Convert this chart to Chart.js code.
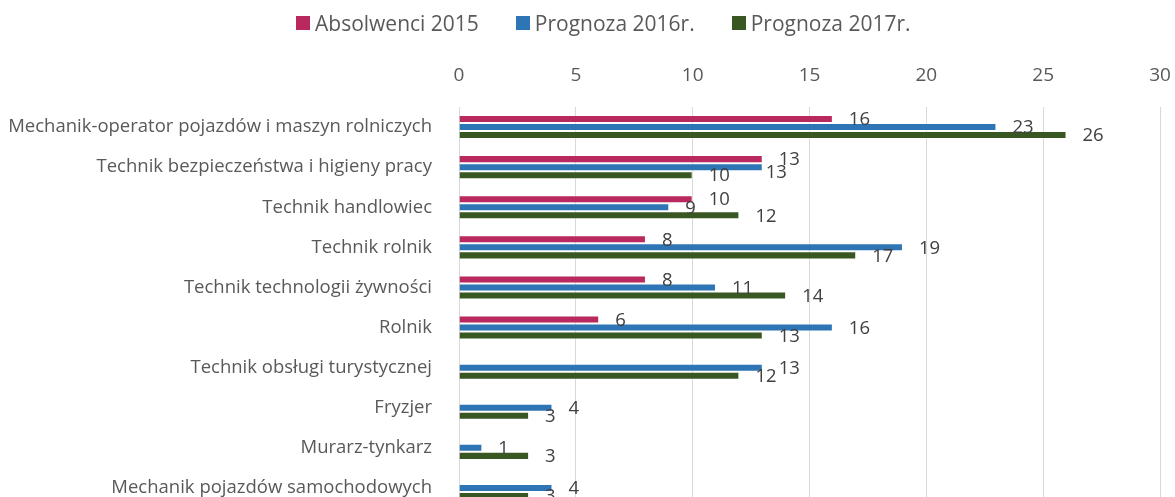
<!DOCTYPE html>
<html lang="pl">
<head>
<meta charset="utf-8">
<title>Absolwenci i prognoza</title>
<script src="https://cdn.jsdelivr.net/npm/chart.js@4.4.1/dist/chart.umd.min.js"></script>
<style>
  html, body { margin: 0; padding: 0; background: #fff; overflow: hidden; }
  #wrap { position: relative; width: 1175px; height: 510px; }
  #legend {
    position: absolute; top: 0; left: 296px; height: 46px;
    display: flex; align-items: center;
    font: 21px "Open Sans", sans-serif; color: #595959;
  }
  #legend .item { display: flex; align-items: center; margin-right: 37px; white-space: nowrap; }
  #legend .box { width: 14px; height: 14px; margin-right: 5px; }
</style>
</head>
<body>
<div id="wrap">
  <canvas id="chart"></canvas>
  <div id="legend"></div>
</div>
<script>
const categories = [
  "Mechanik-operator pojazdów i maszyn rolniczych",
  "Technik bezpieczeństwa i higieny pracy",
  "Technik handlowiec",
  "Technik rolnik",
  "Technik technologii żywności",
  "Rolnik",
  "Technik obsługi turystycznej",
  "Fryzjer",
  "Murarz-tynkarz",
  "Mechanik pojazdów samochodowych"
];
const seriesNames = ["Absolwenci 2015", "Prognoza 2016r.", "Prognoza 2017r."];
const absolwenci2015 = [16, 13, 10, 8, 8, 6, null, null, null, null];
const prognoza2016 = [23, 13, 9, 19, 11, 16, 13, 4, 1, 4];
const prognoza2017 = [26, 10, 12, 17, 14, 13, 12, 3, 3, 3];
const xTicks = [0, 5, 10, 15, 20, 25, 30];

const colors = ["#B9295F", "#2E75B6", "#385723"];
const textGray = "#595959";

// value labels to the right of each bar, nudged when two of them collide
const barLabels = {
  id: "barLabels",
  afterDatasetsDraw(chart) {
    const ctx = chart.ctx;
    ctx.save();
    ctx.font = '18.5px "Open Sans", sans-serif';
    ctx.fillStyle = "#404040";
    ctx.textAlign = "left";
    ctx.textBaseline = "middle";
    const placed = [];
    chart.data.datasets.forEach((ds, i) => {
      const meta = chart.getDatasetMeta(i);
      meta.data.forEach((bar, j) => {
        const v = ds.data[j];
        if (v === null) return;
        let x = bar.x + 16;
        let y = bar.y + 1;
        const w = ctx.measureText(String(v)).width;
        const hit = placed.some(b => x < b.x + b.w && x + w > b.x && Math.abs(y - b.y) < 13);
        if (hit) { x -= 13; y += 5; }
        placed.push({ x, y, w });
        ctx.fillText(String(v), x, y);
      });
    });
    ctx.restore();
  }
};

const ctx = document.getElementById("chart").getContext("2d");
new Chart(ctx, {
  type: "bar",
  data: {
    labels: categories,
    datasets: [absolwenci2015, prognoza2016, prognoza2017].map((d, i) => ({
      label: seriesNames[i],
      data: d,
      backgroundColor: colors[i],
      borderColor: "rgba(255,255,255,0.3)",
      borderWidth: 1,
      categoryPercentage: 0.6,
      barPercentage: 1.0
    }))
  },
  options: {
    indexAxis: "y",
    responsive: true,
    maintainAspectRatio: false,
    animation: false,
    layout: { padding: { top: 0, right: 15, bottom: 2, left: 0 } },
    plugins: {
      legend: { display: false },
      tooltip: { enabled: false }
    },
    scales: {
      x: {
        position: "top",
        min: 0,
        max: 30,
        afterBuildTicks: s => { s.ticks = xTicks.map(v => ({ value: v })); },
        afterFit: s => {
          s.height = 107;
          s.paddingLeft = 0;
          s.paddingRight = 0;
        },
        grid: { color: "#D9D9D9", lineWidth: 1, drawTicks: false },
        border: { display: false },
        ticks: { color: textGray, padding: 20, font: { family: "Open Sans", size: 19 } }
      },
      y: {
        afterFit: s => {
          s.width = 459;
          s.paddingTop = 0;
          s.paddingBottom = 0;
        },
        grid: { display: false },
        border: { display: false },
        ticks: { color: textGray, padding: 19, font: { family: "Open Sans", size: 18.5 } }
      }
    }
  },
  plugins: [barLabels]
});

document.getElementById("legend").innerHTML = seriesNames.map((name, i) =>
  `<div class="item"><span class="box" style="background:${colors[i]}"></span>${name}</div>`
).join("");
</script>
</body>
</html>
